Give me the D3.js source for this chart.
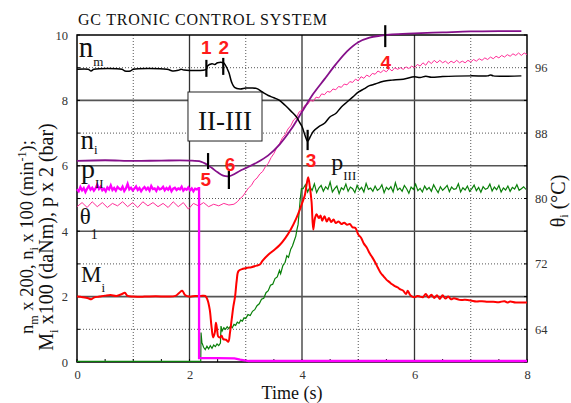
<!DOCTYPE html>
<html><head><meta charset="utf-8">
<script src="https://cdn.jsdelivr.net/npm/d3@7"></script>
<style>
body{margin:0;background:#fff;}
svg{display:block;}
</style></head><body>
<svg id="c" width="571" height="403"></svg>
<script>
// ---------- DATA ----------
const xTicks = [0, 2, 4, 6, 8];
const yLeftTicks = [0, 2, 4, 6, 8, 10];
const yRightTicks = [64, 72, 80, 88, 96];

// n_m x 200 (black)
const nm = [[0,8.95],[0.2,8.95],[0.25,8.9],[0.3,8.95],[0.8,8.95],[0.85,8.9],[0.95,8.9],[1.0,8.95],[1.6,8.95],[1.7,8.9],[1.8,8.92],[1.85,8.95],[1.9,8.93],[2.3,8.95],[2.32,9.05],[2.4,9.12],[2.45,9.1],[2.5,9.15],[2.6,9.15],[2.63,9.1],[2.7,8.85],[2.75,8.55],[2.8,8.4],[2.9,8.35],[3.0,8.38],[3.1,8.38],[3.2,8.36],[3.3,8.25],[3.4,8.15],[3.5,8.08],[3.6,8.0],[3.7,7.85],[3.8,7.68],[3.9,7.5],[3.95,7.35],[4.0,7.2],[4.05,6.95],[4.1,6.75],[4.15,6.9],[4.2,7.05],[4.3,7.2],[4.4,7.3],[4.5,7.5],[4.6,7.6],[4.7,7.8],[4.8,7.95],[4.9,8.1],[5.0,8.25],[5.1,8.35],[5.2,8.45],[5.3,8.5],[5.4,8.56],[5.5,8.6],[5.6,8.62],[5.8,8.65],[6.0,8.72],[6.1,8.7],[6.2,8.74],[6.3,8.71],[6.5,8.73],[7.0,8.75],[7.3,8.75],[7.35,8.78],[7.4,8.75],[7.9,8.75]];

// n_i x 100 (purple)
const ni = [[0,6.15],[0.5,6.17],[1.0,6.15],[1.5,6.16],[2.0,6.16],[2.2,6.13],[2.3,6.05],[2.4,5.93],[2.5,5.8],[2.6,5.7],[2.7,5.68],[2.8,5.75],[2.9,5.85],[3.0,5.93],[3.2,6.1],[3.4,6.32],[3.6,6.65],[3.8,7.1],[4.0,7.65],[4.2,8.2],[4.4,8.65],[4.6,9.1],[4.8,9.5],[5.0,9.78],[5.2,9.92],[5.4,9.98],[5.6,10.02],[6.0,10.05],[6.5,10.08],[7.0,10.11],[7.5,10.12],[7.9,10.12]];

// theta_i (deg C, right axis) pink: wavy start sampled every 0.09 s, then rise
const thetaStartDt = 0.09;
const thetaStart = [79.0,79.5,78.9,79.6,79.0,79.5,78.9,79.4,79.1,79.6,79.0,79.5,78.9,79.6,79.1,79.5,79.0,79.4,78.9,79.6,79.0,79.5,78.7,79.4,79.1,79.5,79.0,79.3,79.1,79.4,79.2];
const thetaRise = [[2.79,79.3],[2.85,79.6],[2.9,80.0],[2.95,80.3]];
const thetaTailT0 = 3.0, thetaTailDt = 0.05;
const thetaTail = [80.8,81.3,81.6,82.2,82.5,83.0,83.3,83.9,84.3,85.0,85.5,86.2,86.7,87.4,87.8,88.5,88.9,89.6,89.9,90.6,90.8,91.4,91.5,92.0,91.9,92.4,92.3,92.8,92.7,93.1,93.0,93.4,93.3,93.7,93.6,94.0,93.9,94.3,94.2,94.6,94.4,94.9,94.7,95.1,94.9,95.3,95.2,95.6,95.4,95.7,95.5,95.9,95.6,96.0,95.8,96.0,95.8,96.1,95.9,96.2,96.0,96.4,96.2,96.6,96.3,96.8,96.5,96.9,96.6,96.9,96.6,96.8,96.5,96.8,96.6,96.9,96.6,96.8,96.6,96.9,96.7,97.0,96.8,97.1,96.9,97.2,97.0,97.3,97.1,97.4,97.2,97.5,97.3,97.6,97.4,97.7,97.5,97.8,97.5,97.8,97.6];

// p_II x 2 (magenta): noisy plateau sampled every 0.03 s, then drop
const pIIDt = 0.03;
const pIIPlateau = [5.28,5.22,5.35,5.25,5.32,5.2,5.3,5.38,5.27,5.33,5.24,5.31,5.42,5.29,5.36,5.25,5.3,5.22,5.34,5.28,5.4,5.26,5.32,5.24,5.35,5.3,5.27,5.36,5.23,5.31,5.45,5.28,5.33,5.25,5.3,5.37,5.26,5.32,5.22,5.3,5.35,5.27,5.33,5.24,5.38,5.29,5.31,5.23,5.34,5.28,5.3,5.36,5.25,5.32,5.27,5.35,5.22,5.3,5.33,5.26,5.31,5.28,5.36,5.24,5.3,5.27,5.34,5.25,5.31,5.22,5.3,5.28,5.32];
const pIIAfter = [[2.17,0.12],[2.5,0.12],[2.8,0.11],[2.9,0.07],[3.05,0.03],[8.0,0.03]];

// p_III x 2 (green)
const pIIIStart = [[0,0.02],[2.2,0.02],[2.205,0.9],[2.22,0.6],[2.25,0.45],[2.28,0.38],[2.31,0.48],[2.34,0.4],[2.37,0.5],[2.4,0.42],[2.43,0.52],[2.46,0.47],[2.49,0.55],[2.52,0.5],[2.55,0.58],[2.56,1.1],[2.58,0.95],[2.61,1.05],[2.64,1.0],[2.67,1.08],[2.7,1.02],[2.73,1.1],[2.76,1.05],[2.79,1.15],[2.82,1.12],[2.85,1.22],[2.88,1.18],[2.91,1.28],[2.94,1.25],[2.97,1.35],[3.0,1.33],[3.04,1.45],[3.08,1.42],[3.12,1.55],[3.16,1.6],[3.2,1.72],[3.24,1.78],[3.28,1.92],[3.32,1.95],[3.36,2.12],[3.4,2.18],[3.44,2.35],[3.48,2.38],[3.52,2.55],[3.56,2.6],[3.6,2.8],[3.62,2.7],[3.66,2.95],[3.7,3.05],[3.73,3.25],[3.76,3.2],[3.8,3.45],[3.83,3.55],[3.86,3.7],[3.89,3.85],[3.91,4.05],[3.93,4.2],[3.95,4.6],[3.97,5.0],[3.99,5.3]];
const pIIINoiseT0 = 4.02, pIIINoiseDt = 0.04;
const pIIINoise = [5.3,5.42,5.2,5.35,5.25,5.45,5.18,5.32,5.4,5.22,5.36,5.28,5.5,5.2,5.3,5.38,5.15,5.33,5.27,5.44,5.22,5.35,5.3,5.18,5.4,5.26,5.34,5.2,5.46,5.28,5.32,5.22,5.38,5.25,5.3,5.42,5.18,5.34,5.27,5.36,5.2,5.48,5.26,5.32,5.22,5.4,5.3,5.16,5.35,5.28,5.44,5.24,5.31,5.2,5.38,5.27,5.34,5.22,5.42,5.29,5.18,5.36,5.25,5.32,5.4,5.21,5.35,5.28,5.3,5.45,5.2,5.33,5.26,5.38,5.22,5.3,5.41,5.24,5.34,5.19,5.36,5.28,5.31,5.44,5.23,5.35,5.27,5.4,5.2,5.32,5.26,5.38,5.22,5.34,5.29,5.42,5.25,5.3,5.36,5.28];

// M_i x 100 (red)
const mi = [[0,2.0],[0.1,1.98],[0.2,1.95],[0.25,1.92],[0.3,1.97],[0.4,2.0],[0.5,2.03],[0.6,2.05],[0.7,2.02],[0.8,2.08],[0.85,2.12],[0.9,2.02],[1.0,2.0],[1.2,2.0],[1.4,2.01],[1.6,2.0],[1.75,2.02],[1.82,2.12],[1.87,2.18],[1.92,2.05],[2.0,2.0],[2.1,2.02],[2.2,2.02],[2.28,2.02],[2.32,1.9],[2.36,1.6],[2.39,1.1],[2.42,0.75],[2.45,0.9],[2.47,1.2],[2.49,1.0],[2.51,0.78],[2.54,0.75],[2.57,0.8],[2.6,0.7],[2.65,0.68],[2.69,0.62],[2.72,0.9],[2.75,1.3],[2.78,1.7],[2.81,2.0],[2.84,2.5],[2.87,2.78],[2.95,2.85],[3.02,2.88],[3.1,2.9],[3.2,2.95],[3.25,2.98],[3.3,3.1],[3.4,3.28],[3.5,3.42],[3.6,3.57],[3.7,3.78],[3.8,4.05],[3.9,4.4],[3.96,4.65],[4.0,4.85],[4.05,5.1],[4.08,5.4],[4.11,5.65],[4.14,5.35],[4.17,4.9],[4.2,4.05],[4.23,4.4],[4.26,4.52],[4.3,4.4],[4.33,4.48],[4.36,4.32],[4.4,4.46],[4.44,4.3],[4.48,4.4],[4.52,4.28],[4.56,4.36],[4.6,4.25],[4.65,4.3],[4.7,4.22],[4.75,4.26],[4.8,4.2],[4.85,4.22],[4.9,4.12],[4.95,4.1],[5.0,3.9],[5.05,3.8],[5.1,3.62],[5.15,3.5],[5.2,3.33],[5.25,3.2],[5.3,3.05],[5.35,2.88],[5.4,2.72],[5.45,2.62],[5.5,2.52],[5.55,2.45],[5.6,2.38],[5.65,2.32],[5.7,2.28],[5.75,2.22],[5.8,2.18],[5.85,2.08],[5.88,2.18],[5.92,2.05],[5.96,2.0],[6.0,1.98],[6.05,2.02],[6.1,2.0],[6.15,1.98],[6.2,2.08],[6.25,1.97],[6.3,2.06],[6.35,1.96],[6.4,2.04],[6.45,1.93],[6.5,2.04],[6.55,1.94],[6.6,2.0],[6.65,1.92],[6.7,1.95],[6.8,1.9],[6.9,1.9],[7.0,1.88],[7.1,1.85],[7.2,1.86],[7.3,1.84],[7.4,1.84],[7.5,1.83],[7.6,1.86],[7.65,1.82],[7.7,1.85],[7.8,1.82],[8.0,1.82]];

// event markers: label, tick time, tick value range, label position (data units)
const events = [
  {lab:"1", t:2.3,  v0:8.72, v1:9.24, lt:2.3,  lv:9.63},
  {lab:"2", t:2.6,  v0:8.78, v1:9.3,  lt:2.61, lv:9.63},
  {lab:"3", t:4.1,  v0:6.48, v1:7.1,  lt:4.16, lv:6.18},
  {lab:"4", t:5.48, v0:9.63, v1:10.3, lt:5.49, lv:9.17},
  {lab:"5", t:2.33, v0:5.9,  v1:6.39, lt:2.29, lv:5.6},
  {lab:"6", t:2.7,  v0:5.29, v1:5.84, lt:2.72, lv:6.06}
];

// ---------- CHART ----------
const serif = '"Liberation Serif","Times New Roman",serif';
const sans = '"Liberation Sans",Arial,sans-serif';
const svg = d3.select("#c").style("font-family", serif);
const L = 77, R = 527, T = 35, B = 362;
const x = d3.scaleLinear().domain([0, 8]).range([L, R]);
const y = d3.scaleLinear().domain([0, 10]).range([B, T]);
const yR = d3.scaleLinear().domain([60, 100]).range([B, T]);

// grid
const g = svg.append("g");
[1,3,5,7].forEach(v => g.append("line").attr("x1",x(v)).attr("x2",x(v)).attr("y1",T).attr("y2",B)
  .attr("stroke","#555").attr("stroke-width",1).attr("stroke-dasharray","1,2"));
[2,4,6].forEach(v => g.append("line").attr("x1",x(v)).attr("x2",x(v)).attr("y1",T).attr("y2",B)
  .attr("stroke","#333").attr("stroke-width",1.3));
[1,3,5,7,9].forEach(v => g.append("line").attr("x1",L).attr("x2",R).attr("y1",y(v)).attr("y2",y(v))
  .attr("stroke","#555").attr("stroke-width",1).attr("stroke-dasharray","1,2"));
[2,4,6,8].forEach(v => g.append("line").attr("x1",L).attr("x2",R).attr("y1",y(v)).attr("y2",y(v))
  .attr("stroke","#555").attr("stroke-width",1.6));

// frame
svg.append("rect").attr("x",L).attr("y",T).attr("width",R-L).attr("height",B-T)
  .attr("fill","none").attr("stroke","#000").attr("stroke-width",1.5);

// axes
function styleAxis(sel){
  sel.select(".domain").remove();
  sel.attr("font-family", null).attr("font-size", null);
  sel.selectAll("text").style("font-family", serif).style("font-size","12.5px").attr("fill","#333");
}
svg.append("g").attr("transform",`translate(${L},0)`)
  .call(d3.axisLeft(y).tickValues(yLeftTicks).tickSize(0).tickPadding(9)).call(styleAxis);
svg.append("g").attr("transform",`translate(${R},0)`)
  .call(d3.axisRight(yR).tickValues(yRightTicks).tickSize(0).tickPadding(8)).call(styleAxis);
svg.append("g").attr("transform",`translate(0,${B})`)
  .call(d3.axisBottom(x).tickValues(xTicks).tickSize(0).tickPadding(8)).call(styleAxis);
// inward minor ticks
d3.range(0, 10.01, 1).forEach(v => {
  svg.append("line").attr("x1",L).attr("x2",L+3).attr("y1",y(v)).attr("y2",y(v)).attr("stroke","#000");
  svg.append("line").attr("x1",R-3).attr("x2",R).attr("y1",y(v)).attr("y2",y(v)).attr("stroke","#000");
});
d3.range(0, 8.01, 0.5).forEach(v => {
  svg.append("line").attr("x1",x(v)).attr("x2",x(v)).attr("y1",B-3).attr("y2",B).attr("stroke","#000");
});

// II-III box
svg.append("rect").attr("x",x(1.973)).attr("y",y(8.257))
  .attr("width",x(3.289)-x(1.973)).attr("height",y(6.758)-y(8.257))
  .attr("fill","#fff").attr("stroke","#222").attr("stroke-width",1);
svg.append("text").attr("x",(x(1.973)+x(3.289))/2).attr("y",y(7.1))
  .attr("text-anchor","middle").attr("font-size",27).attr("fill","#111").text("II-III");

// series
const line = d3.line().x(d => x(d[0])).y(d => y(d[1]));
const lineSmooth = d3.line().x(d => x(d[0])).y(d => y(d[1])).curve(d3.curveCatmullRom.alpha(0.5));
const lineR = d3.line().x(d => x(d[0])).y(d => yR(d[1]));

const thetaData = thetaStart.map((v,i)=>[i*thetaStartDt, v])
  .concat(thetaRise)
  .concat(thetaTail.map((v,i)=>[thetaTailT0 + i*thetaTailDt, v]));
const pIIData = pIIPlateau.map((v,i)=>[i*pIIDt, v]).concat([[2.17, pIIPlateau[pIIPlateau.length-1]]]).concat(pIIAfter);
const pIIIData = pIIIStart.concat(pIIINoise.map((v,i)=>[pIIINoiseT0 + i*pIIINoiseDt, v]));

svg.append("path").attr("d", lineR(thetaData)).attr("fill","none").attr("stroke","#ff2e98").attr("stroke-width",1);
svg.append("path").attr("d", lineSmooth(ni)).attr("fill","none").attr("stroke","#85108a").attr("stroke-width",1.8);
svg.append("path").attr("d", lineSmooth(nm)).attr("fill","none").attr("stroke","#000").attr("stroke-width",1.5);
svg.append("path").attr("d", line(pIIIData)).attr("fill","none").attr("stroke","#0a800a").attr("stroke-width",1.2);
svg.append("path").attr("d", lineSmooth(mi)).attr("fill","none").attr("stroke","#ff0000").attr("stroke-width",2);
svg.append("path").attr("d", line(pIIData)).attr("fill","none").attr("stroke","#ff00ff").attr("stroke-width",2.3);

// event ticks and numbers
events.forEach(e => {
  svg.append("line").attr("x1",x(e.t)).attr("x2",x(e.t)).attr("y1",y(e.v0)).attr("y2",y(e.v1))
    .attr("stroke","#000").attr("stroke-width",2.2);
  svg.append("text").attr("x",x(e.lt)).attr("y",y(e.lv)).attr("dy","0.36em")
    .attr("text-anchor","middle").style("font-family", sans)
    .attr("font-weight","bold").attr("font-size",19).attr("fill","#ff1a1a").text(e.lab);
});

// series labels
function seriesLabel(t, v, main, sub, fs, sfs, sdy){
  const tx = svg.append("text").attr("x",x(t)).attr("y",y(v)).attr("font-size",fs).attr("fill","#111");
  tx.append("tspan").text(main);
  tx.append("tspan").attr("dy",sdy).attr("font-size",sfs).text(sub);
}
seriesLabel(0.03, 9.33, "n", "m", 29, 13, 9);
seriesLabel(0.06, 6.5, "n", "i", 27, 13, 5);
seriesLabel(0.07, 5.64, "p", "II", 28, 13, 10);
seriesLabel(0.05, 4.22, "\u03b8", "1", 23, 14, 15);
seriesLabel(0.07, 2.45, "M", "i", 23, 13, 10);
seriesLabel(4.52, 5.87, "p", "III", 24, 13, 10);

// title
svg.append("text").attr("x",78).attr("y",25).attr("font-size",16).attr("fill","#111")
  .attr("textLength",249).attr("lengthAdjust","spacing")
  .text("GC TRONIC CONTROL SYSTEM");

// x label
svg.append("text").attr("x",292).attr("y",399).attr("text-anchor","middle").attr("font-size",18)
  .attr("fill","#111").text("Time (s)");

// left y label (two lines)
const yl1 = svg.append("text").attr("transform","translate(33,237) rotate(-90)")
  .attr("text-anchor","middle").attr("font-size",18.5).attr("fill","#111");
yl1.append("tspan").text("n");
yl1.append("tspan").attr("dy",5).attr("font-size",12).text("m");
yl1.append("tspan").attr("dy",-5).text(" x 200, n");
yl1.append("tspan").attr("dy",5).attr("font-size",12).text("i");
yl1.append("tspan").attr("dy",-5).text(" x 100 (min");
yl1.append("tspan").attr("dy",-7).attr("font-size",12).text("-1");
yl1.append("tspan").attr("dy",7).text(");");

const yl2 = svg.append("text").attr("transform","translate(53,237) rotate(-90)")
  .attr("text-anchor","middle").attr("font-size",20).attr("fill","#111");
yl2.append("tspan").text("M");
yl2.append("tspan").attr("dy",5).attr("font-size",13).text("i");
yl2.append("tspan").attr("dy",-5).text(" x100 (daNm),  p x 2 (bar)");

// right y label
const yr = svg.append("text").attr("transform","translate(565,201) rotate(-90)")
  .attr("text-anchor","middle").attr("font-size",20).attr("fill","#111");
yr.append("tspan").text("\u03b8");
yr.append("tspan").attr("dy",3).attr("font-size",12).text("i");
yr.append("tspan").attr("dy",-3).text(" (\u00b0C)");
</script>
</body></html>
